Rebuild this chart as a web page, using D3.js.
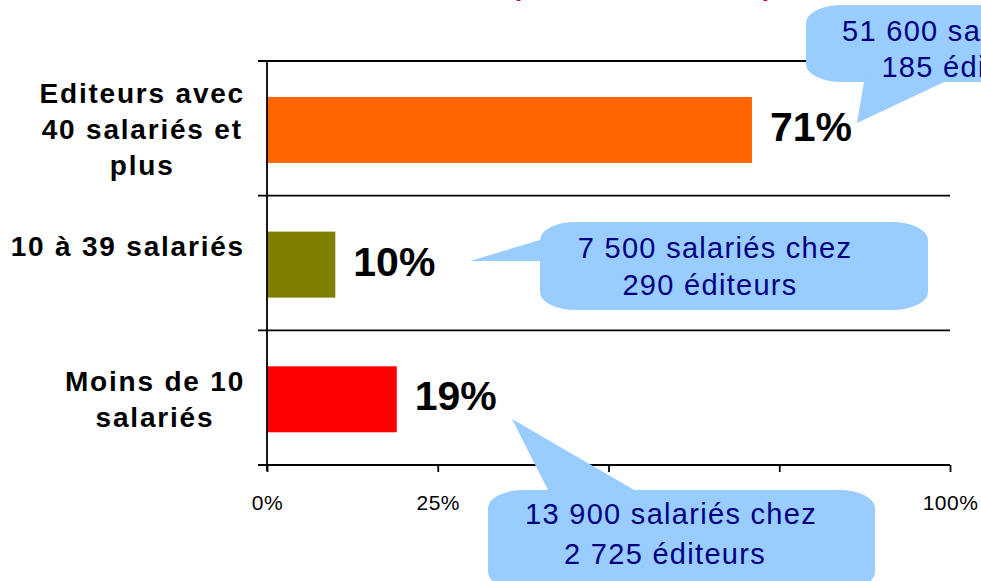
<!DOCTYPE html>
<html>
<head>
<meta charset="utf-8">
<script src="https://cdn.jsdelivr.net/npm/d3@7"></script>
<style>
  html, body { margin: 0; padding: 0; background: #fff; overflow: hidden; }
  svg { display: block; font-family: "Liberation Sans", Arial, sans-serif; }
</style>
</head>
<body>
<svg id="chart" width="981" height="581"></svg>
<script>
// Data
const categories = ["Editeurs avec 40 salariés et plus", "10 à 39 salariés", "Moins de 10 salariés"];
const labelLines = [["Editeurs avec", "40 salariés et", "plus"], ["10 à 39 salariés", ""], ["Moins de 10", "salariés"]];
const shares = [71, 10, 19];
const barColors = ["#ff6600", "#808000", "#ff0000"];
const employees = ["51 600", "7 500", "13 900"];
const publishers = ["185", "290", "2 725"];
const tickValues = [0, 25, 50, 75, 100];
const shownTicks = [0, 25, 100]; // 50% and 75% sit under the bottom callout

// Callout boxes (layout only)
const callouts = [
    { bar: 0, box: [806, 5, 1175, 82], tip: [857, 123], base: [[865, 76], [957, 76]], tx: [988, 969], ty: [41, 77] },
    { bar: 1, box: [540, 222, 928, 310], tip: [470, 261], base: [[550, 237], [550, 261]], tx: [715, 710], ty: [258, 295] },
    { bar: 2, box: [488, 490, 875, 590], tip: [512, 419], base: [[552, 498], [648, 498]], tx: [671, 665], ty: [524, 564] }
];

const svg = d3.select("#chart");
const margin = { left: 267, right: 31, top: 61, bottom: 116 };
const W = 981, H = 581;

const x = d3.scaleLinear().domain([0, 100]).range([margin.left, W - margin.right]);
const y = d3.scaleBand().domain(categories).range([margin.top, H - margin.bottom]).padding(0);
const bw = y.bandwidth();

// title line, cut off at the top of the frame
svg.append("text")
    .attr("x", 512).attr("y", -4)
    .attr("textLength", 260)
    .style("font-size", "26px").style("font-weight", "bold")
    .style("fill", "#c0003a")
    .text("(effectifs salariés)");

// horizontal grid lines at band edges
const edges = categories.map(c => y(c));
svg.append("g").selectAll("line")
    .data(edges)
    .enter().append("line")
    .attr("x1", margin.left - 9).attr("x2", x(100))
    .attr("y1", d => d).attr("y2", d => d)
    .style("stroke", "#000").style("stroke-width", 1.8);

// bars
svg.append("g").selectAll("rect")
    .data(categories)
    .enter().append("rect")
    .attr("x", x(0))
    .attr("y", d => y(d) + bw * 0.267)
    .attr("width", (d, i) => x(shares[i]) - x(0))
    .attr("height", bw * 0.49)
    .style("fill", (d, i) => barColors[i]);

// value labels
svg.append("g").selectAll("text")
    .data(categories)
    .enter().append("text")
    .attr("x", (d, i) => x(shares[i]) + 18)
    .attr("y", d => y(d) + bw * 0.267 + bw * 0.245 + 11)
    .style("font-size", "41px").style("font-weight", "bold")
    .style("fill", "#000")
    .text((d, i) => shares[i] + "%");

// x axis
const xAxis = svg.append("g")
    .attr("transform", `translate(0,${H - margin.bottom})`)
    .call(d3.axisBottom(x).tickValues(tickValues)
        .tickFormat(d => shownTicks.includes(d) ? d + "%" : "")
        .tickSize(7).tickSizeOuter(0));
xAxis.select(".domain").style("stroke", "#000").style("stroke-width", 1.8)
    .attr("d", `M${margin.left - 9},0H${x(100)}`);
xAxis.selectAll(".tick line").style("stroke", "#000").style("stroke-width", 1.8);
xAxis.selectAll(".tick text")
    .attr("y", 45).attr("dy", 0)
    .style("font-family", "'Liberation Sans', Arial, sans-serif")
    .style("font-size", "21px").style("letter-spacing", "0.5px")
    .style("fill", "#000");

// y axis line
svg.append("line")
    .attr("x1", x(0)).attr("x2", x(0))
    .attr("y1", margin.top - 1).attr("y2", H - margin.bottom + 6)
    .style("stroke", "#000").style("stroke-width", 1.8);

// category labels: lines centred, block right-aligned to the axis
const lineH = 36;
const labelG = svg.append("g");
categories.forEach((c, i) => {
    const lines = labelLines[i];
    const cy = y(c) + bw / 2 + 11;
    const t = labelG.append("text")
        .style("font-size", "28px").style("font-weight", "bold")
        .style("letter-spacing", "1.8px")
        .attr("text-anchor", "middle");
    const spans = lines.map((ln, k) => t.append("tspan")
        .attr("y", cy + (k - (lines.length - 1) / 2) * lineH)
        .text(ln));
    const maxW = d3.max(spans, s => s.node().getComputedTextLength());
    spans.forEach(s => s.attr("x", 245 - maxW / 2));
});

// callouts
const cg = svg.append("g").selectAll("g")
    .data(callouts)
    .enter().append("g");

cg.append("rect")
    .attr("x", d => d.box[0]).attr("y", d => d.box[1])
    .attr("width", d => d.box[2] - d.box[0])
    .attr("height", d => d.box[3] - d.box[1])
    .attr("rx", 36).attr("ry", 18)
    .style("fill", "#99ccff");

cg.append("path")
    .attr("d", d => `M${d.tip[0]},${d.tip[1]}L${d.base[0][0]},${d.base[0][1]}L${d.base[1][0]},${d.base[1][1]}Z`)
    .style("fill", "#99ccff");

cg.each(function (d) {
    const g = d3.select(this);
    const lines = [`${employees[d.bar]} salariés chez`, `${publishers[d.bar]} éditeurs`];
    lines.forEach((ln, k) => {
        g.append("text")
            .attr("x", d.tx[k]).attr("y", d.ty[k])
            .attr("text-anchor", "middle")
            .style("font-size", "29px")
            .style("letter-spacing", "1.3px")
            .style("fill", "#000080")
            .text(ln);
    });
});
</script>
</body>
</html>
